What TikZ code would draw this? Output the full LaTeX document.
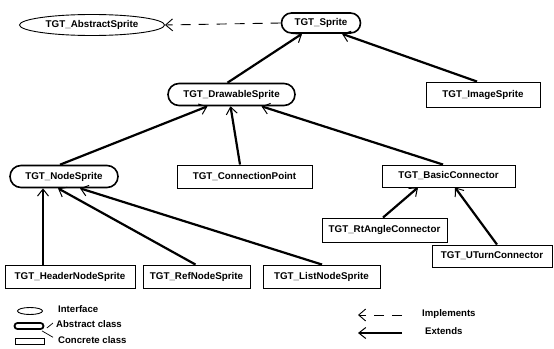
\documentclass[tikz,border=0pt]{standalone}
\usepackage{fontspec}
\setmainfont{Liberation Sans}
\usetikzlibrary{arrows.meta,shapes.geometric,shapes.misc}
\tikzset{
  lbl/.style={font=\bfseries\fontsize{9.8}{10}\selectfont, inner sep=0pt},
  iface/.style={lbl, draw, ellipse, line width=0.9pt},
  abstr/.style={lbl, draw, rounded rectangle, line width=1.6pt},
  concr/.style={lbl, draw, rectangle, line width=0.9pt},
  ext/.style={line width=2.2pt, -{Straight Barb[length=7pt,width=11pt,line width=1pt]}},
  impl/.style={line width=0.9pt, dash pattern=on 10pt off 8pt, -{Straight Barb[length=7pt,width=12pt,line width=0.9pt]}},
  legtxt/.style={font=\bfseries\fontsize{9.6}{10}\selectfont, inner sep=0pt, anchor=west}
}
\begin{document}
\begin{tikzpicture}[x=1pt,y=-1pt]
\useasboundingbox (0,0) rectangle (554,348);
% nodes
\node[iface, minimum width=145pt, minimum height=21pt] (abs) at (92,25) {TGT\_AbstractSprite};
\node[abstr, minimum width=79pt, minimum height=20pt] (spr) at (321,23) {TGT\_Sprite};
\node[abstr, minimum width=127pt, minimum height=22pt] (drw) at (231.5,94.5) {TGT\_DrawableSprite};
\node[concr, minimum width=114pt, minimum height=25pt] (img) at (483,94.5) {TGT\_ImageSprite};
\node[abstr, minimum width=108pt, minimum height=22pt] (nod) at (64,176.5) {TGT\_NodeSprite};
\node[concr, minimum width=135pt, minimum height=23pt] (con) at (244.5,176.5) {TGT\_ConnectionPoint};
\node[concr, minimum width=133pt, minimum height=22pt] (bas) at (448.5,176) {TGT\_BasicConnector};
\node[concr, minimum width=125pt, minimum height=24pt] (rta) at (384.5,230) {TGT\_RtAngleConnector};
\node[concr, minimum width=120pt, minimum height=22pt] (utn) at (492,256) {TGT\_UTurnConnector};
\node[concr, minimum width=130pt, minimum height=23pt] (hdr) at (70,276.5) {TGT\_HeaderNodeSprite};
\node[concr, minimum width=107pt, minimum height=23pt] (ref) at (196.5,276.5) {TGT\_RefNodeSprite};
\node[concr, minimum width=117pt, minimum height=23pt] (lst) at (321.5,276.5) {TGT\_ListNodeSprite};
% connectors
\draw[impl] (spr.west) -- (abs.east);
\draw[ext] ([xshift=-4pt]drw.north) -- ([xshift=-19pt]spr.south);
\draw[ext] ([xshift=-6pt]img.north) -- ([xshift=21pt]spr.south);
\draw[ext] ([xshift=-4pt]nod.north) -- ([xshift=-24pt]drw.south);
\draw[ext] ([xshift=-4.5pt]con.north) -- ([xshift=-1pt]drw.south);
\draw[ext] ([xshift=-5.5pt]bas.north) -- ([xshift=30pt]drw.south);
\draw[ext] ([xshift=-27pt]hdr.north) -- ([xshift=-21pt]nod.south);
\draw[ext] ([xshift=-1pt]ref.north) -- ([xshift=-6pt]nod.south);
\draw[ext] ([xshift=0.5pt]lst.north) -- ([xshift=16pt]nod.south);
\draw[ext] ([xshift=-1.5pt]rta.north) -- ([xshift=-30.5pt]bas.south);
\draw[ext] ([xshift=5pt]utn.north) -- ([xshift=6.5pt]bas.south);
% legend left
\node[draw, ellipse, line width=0.9pt, minimum width=25pt, minimum height=7pt, inner sep=0pt] (lif) at (30,311) {};
\node[legtxt] (tif) at (58,309) {Interface};
\node[draw, rounded rectangle, line width=1.8pt, minimum width=29pt, minimum height=6pt, inner sep=0pt] (lab) at (29,326) {};
\node[legtxt] (tab) at (56,324) {Abstract class};
\node[draw, rectangle, line width=0.9pt, minimum width=29pt, minimum height=6pt, inner sep=0pt] (lcc) at (30,341) {};
\node[legtxt] (tcc) at (58,340) {Concrete class};
\draw[line width=0.7pt] ([xshift=-3pt,yshift=1pt]tab.west) -- ([xshift=2.5pt,yshift=-2pt]lab.east);
\draw[line width=0.7pt] ([xshift=1.5pt,yshift=-1pt]lab.south east) -- ([xshift=-5pt,yshift=-1pt]tcc.north west);
% legend right
\coordinate (i1) at (402,315);
\coordinate (i2) at (358,315);
\coordinate (e1) at (402,333);
\coordinate (e2) at (358,333);
\draw[impl] (i1) -- (i2);
\draw[ext] (e1) -- (e2);
\node[legtxt] (timp) at (422,314) {Implements};
\node[legtxt] (text) at (425,331) {Extends};
\end{tikzpicture}
\end{document}
